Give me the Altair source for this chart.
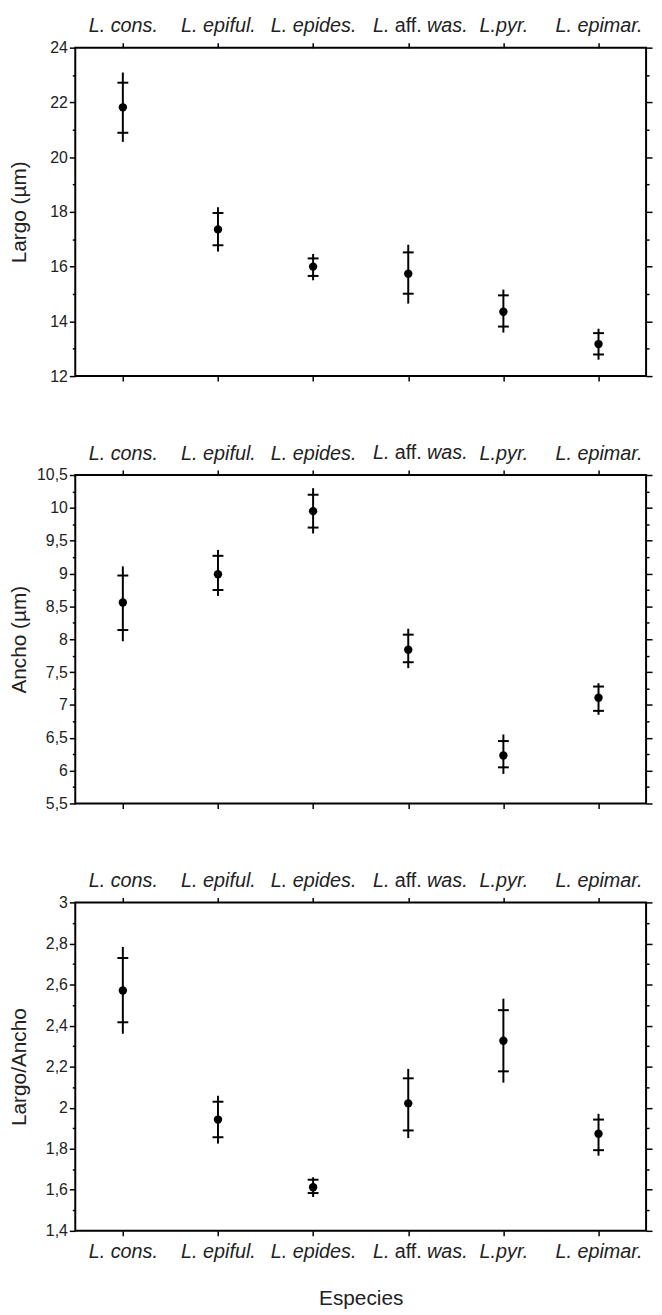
import altair as alt
import pandas as pd

species = ["L. cons.", "L. epiful.", "L. epides.", "L. aff. was.", "L.pyr.", "L. epimar."]

# Panel 1: Largo (um)
largo_mean = [21.82, 17.36, 16.00, 15.74, 14.35, 13.17]
largo_in_hi = [22.72, 17.96, 16.30, 16.52, 14.95, 13.57]
largo_in_lo = [20.89, 16.78, 15.66, 15.01, 13.81, 12.79]
largo_out_hi = [23.09, 18.17, 16.46, 16.80, 15.16, 13.73]
largo_out_lo = [20.56, 16.55, 15.50, 14.65, 13.59, 12.60]

# Panel 2: Ancho (um)
ancho_mean = [8.56, 8.99, 9.95, 7.84, 6.23, 7.11]
ancho_in_hi = [8.97, 9.27, 10.20, 8.07, 6.45, 7.28]
ancho_in_lo = [8.14, 8.75, 9.70, 7.65, 6.05, 6.91]
ancho_out_hi = [9.11, 9.36, 10.30, 8.16, 6.55, 7.33]
ancho_out_lo = [7.97, 8.66, 9.61, 7.56, 5.95, 6.85]

# Panel 3: Largo/Ancho
ratio_mean = [2.571, 1.942, 1.612, 2.021, 2.326, 1.873]
ratio_in_hi = [2.729, 2.029, 1.649, 2.143, 2.475, 1.942]
ratio_in_lo = [2.416, 1.856, 1.584, 1.889, 2.177, 1.793]
ratio_out_hi = [2.783, 2.058, 1.661, 2.189, 2.531, 1.970]
ratio_out_lo = [2.360, 1.825, 1.565, 1.852, 2.122, 1.766]

# Tick labels / ticks
largo_ticks = [12, 13, 14, 15, 16, 17, 18, 19, 20, 21, 22, 23, 24]
largo_major = [12, 14, 16, 18, 20, 22, 24]
ancho_ticks = [5.5, 5.75, 6, 6.25, 6.5, 6.75, 7, 7.25, 7.5, 7.75, 8, 8.25, 8.5,
               8.75, 9, 9.25, 9.5, 9.75, 10, 10.25, 10.5]
ancho_major = [5.5, 6, 6.5, 7, 7.5, 8, 8.5, 9, 9.5, 10, 10.5]
ratio_ticks = [1.4, 1.5, 1.6, 1.7, 1.8, 1.9, 2, 2.1, 2.2, 2.3, 2.4, 2.5, 2.6,
               2.7, 2.8, 2.9, 3]
ratio_major = [1.4, 1.6, 1.8, 2, 2.2, 2.4, 2.6, 2.8, 3]

FONT = "Liberation Sans"
TXT = "#222222"
W, H = 577, 332
LAB_FS = 20
LAB_PAD = 7
BOT_PAD = 6
TICK = 5
SPECIAL = "L. aff. was."


def make_df(mean, in_lo, in_hi, out_lo, out_hi):
    return pd.DataFrame({
        "species": species, "mean": mean,
        "in_lo": in_lo, "in_hi": in_hi,
        "out_lo": out_lo, "out_hi": out_hi,
    })


def panel(df, ytitle, ticks, majors, domain, bottom_labels=False):
    base = alt.Chart(df)
    xs = alt.Scale(type="point", padding=0.5, domain=species)
    ys = alt.Scale(domain=domain, nice=False, zero=False)
    is_major = f"indexof({majors}, datum.value) >= 0"
    tsize = {"condition": {"test": is_major, "value": 6}, "value": 3}
    xlabel_expr = f"datum.label == '{SPECIAL}' ? '' : datum.label"

    top_axis = alt.Axis(orient="top", title=None, labelExpr=xlabel_expr,
                        labelFont=FONT, labelFontStyle="italic",
                        labelFontSize=LAB_FS, labelColor=TXT, labelAngle=0,
                        labelPadding=LAB_PAD, tickSize=TICK, tickWidth=1.5,
                        tickColor="black", domain=False, grid=False)
    if bottom_labels:
        bottom_axis = alt.Axis(orient="bottom", title="Especies",
                               labelExpr=xlabel_expr, labelFont=FONT,
                               labelFontStyle="italic", labelFontSize=LAB_FS,
                               labelColor=TXT, labelAngle=0,
                               labelPadding=BOT_PAD, tickSize=TICK,
                               tickWidth=1.5, tickColor="black", domain=False,
                               grid=False, titleFont=FONT, titleFontSize=21,
                               titleFontWeight="normal", titleColor=TXT,
                               titlePadding=26)
    else:
        bottom_axis = alt.Axis(orient="bottom", title=None, labels=False,
                               tickSize=TICK, tickWidth=1.5,
                               tickColor="black", domain=False, grid=False)

    left_axis = alt.Axis(orient="left", title=ytitle, values=ticks,
                         labelExpr=f"{is_major} ? replace(format(datum.value, '.2~f'), '.', ',') : ''",
                         labelFont=FONT, labelFontSize=16, labelColor=TXT,
                         labelPadding=2, tickSize=tsize, tickWidth=1.5,
                         tickColor="black", domain=False, grid=False,
                         titleFont=FONT, titleFontSize=21,
                         titleFontWeight="normal", titleColor=TXT,
                         titleX=-46, titleY=H / 2, titleAngle=-90,
                         titleBaseline="bottom", titleAlign="center")
    right_axis = alt.Axis(orient="right", title=None, values=ticks,
                          labels=False, tickSize=tsize, tickWidth=1.5,
                          tickColor="black", domain=False, grid=False)

    rule = base.mark_rule(strokeWidth=2, color="black").encode(
        x=alt.X("species:N", scale=xs, sort=species, axis=top_axis),
        y=alt.Y("out_lo:Q", scale=ys, axis=left_axis),
        y2="out_hi:Q",
    )
    tick_lo = base.mark_tick(orient="horizontal", size=11, thickness=2,
                             color="black", opacity=1).encode(
        x=alt.X("species:N", scale=xs, sort=species, axis=bottom_axis),
        y=alt.Y("in_lo:Q", scale=ys, axis=right_axis),
    )
    tick_hi = base.mark_tick(orient="horizontal", size=11, thickness=2,
                             color="black", opacity=1).encode(
        x=alt.X("species:N", scale=xs, sort=species, axis=None),
        y=alt.Y("in_hi:Q", scale=ys, axis=None),
    )
    pts = base.mark_circle(size=72, color="black", opacity=1).encode(
        x=alt.X("species:N", scale=xs, sort=species, axis=None),
        y=alt.Y("mean:Q", scale=ys, axis=None),
    )

    sp = base.transform_filter(alt.datum.species == SPECIAL)

    def special_label(ypos, baseline):
        xenc = alt.X("species:N", scale=xs, sort=species, axis=None)
        common = dict(font=FONT, fontSize=LAB_FS, color=TXT, baseline=baseline)
        l1 = sp.mark_text(text="L.", fontStyle="italic", align="right",
                          dx=-19, **common).encode(x=xenc, y=alt.value(ypos))
        l2 = sp.mark_text(text="aff.", fontStyle="normal", align="center",
                          dx=0, **common).encode(x=xenc, y=alt.value(ypos))
        l3 = sp.mark_text(text="was.", fontStyle="italic", align="left",
                          dx=19, **common).encode(x=xenc, y=alt.value(ypos))
        return [l1, l2, l3]

    layers = [rule, tick_lo, tick_hi, pts]
    layers += special_label(-(TICK + LAB_PAD), "bottom")
    if bottom_labels:
        layers += special_label(H + TICK + BOT_PAD, "top")

    return alt.layer(*layers).resolve_axis(x="independent", y="independent").properties(
        width=W, height=H)


p1 = panel(make_df(largo_mean, largo_in_lo, largo_in_hi, largo_out_lo, largo_out_hi),
           "Largo (µm)", largo_ticks, largo_major, [12, 24])
p2 = panel(make_df(ancho_mean, ancho_in_lo, ancho_in_hi, ancho_out_lo, ancho_out_hi),
           "Ancho (µm)", ancho_ticks, ancho_major, [5.5, 10.5])
p3 = panel(make_df(ratio_mean, ratio_in_lo, ratio_in_hi, ratio_out_lo, ratio_out_hi),
           "Largo/Ancho", ratio_ticks, ratio_major, [1.4, 3], bottom_labels=True)

chart = alt.vconcat(p1, p2, p3, spacing=58).properties(
    padding={"top": 0, "left": 0, "right": 0, "bottom": 0}
).configure(background="white").configure_view(stroke="black", strokeWidth=2)

chart.save("out.html", embed_options={"renderer": "svg", "actions": False})
